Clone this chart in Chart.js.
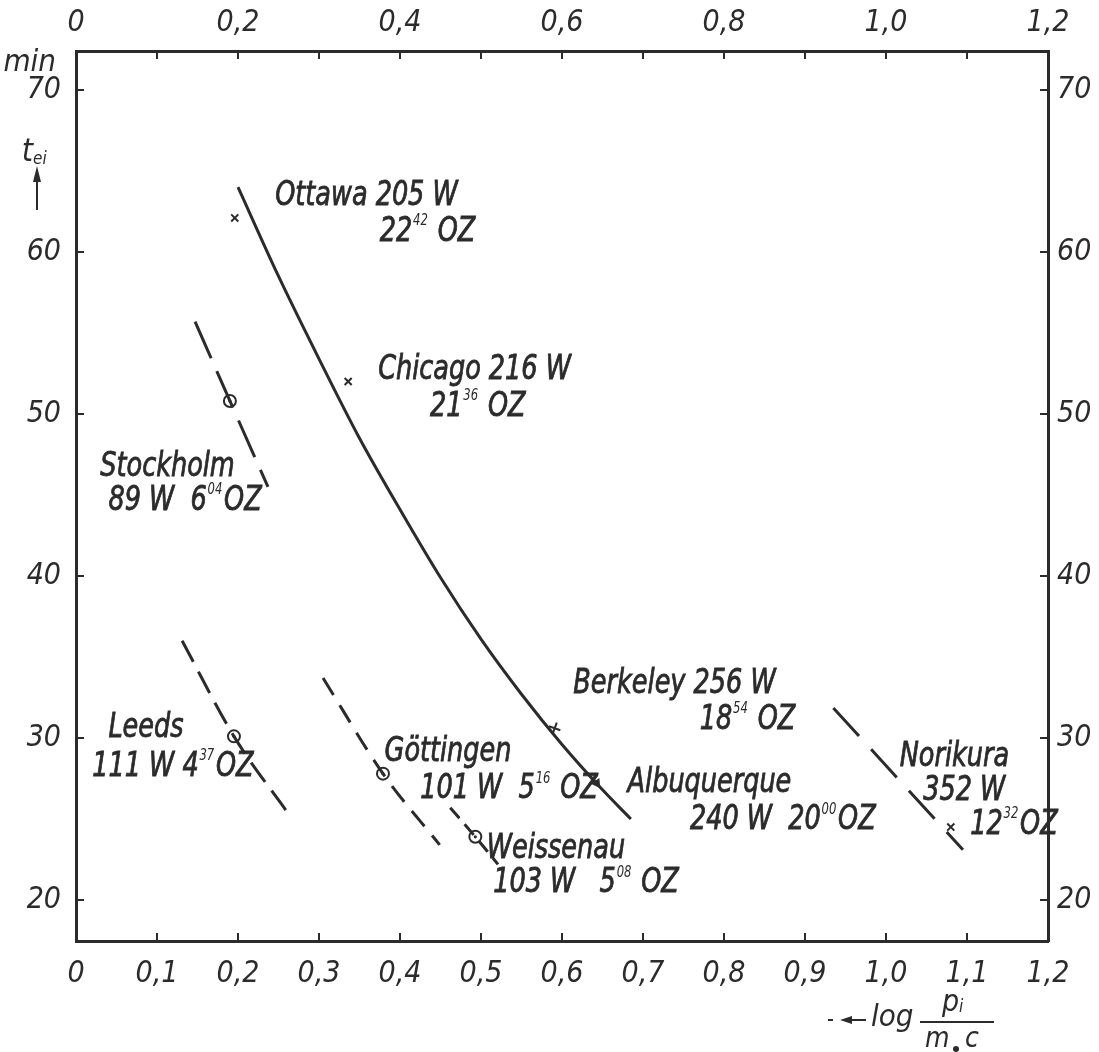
<!DOCTYPE html>
<html>
<head>
<meta charset="utf-8">
<script src="https://cdn.jsdelivr.net/npm/chart.js@4.4.1/dist/chart.umd.min.js"></script>
<style>
    html, body { margin: 0; padding: 0; background: #fff; }
    #wrap { width: 1099px; height: 1052px; }
</style>
</head>
<body>
<div id="wrap"><canvas id="chart" width="1099" height="1052"></canvas></div>
<script>
// tick values
const xTicks = [0, 0.1, 0.2, 0.3, 0.4, 0.5, 0.6, 0.7, 0.8, 0.9, 1.0, 1.1, 1.2];
const yTicks = [20, 30, 40, 50, 60, 70];

// solid curve (Ottawa / Chicago / Berkeley / Albuquerque)
const mainCurveX = [0.200, 0.250, 0.300, 0.350, 0.400, 0.450, 0.500, 0.550, 0.600, 0.650, 0.685];
const mainCurveY = [64.0, 58.5, 53.4, 48.5, 44.1, 39.9, 36.1, 32.7, 29.6, 26.8, 25.0];

// dashed curves
const stockholmX = [0.147, 0.190, 0.237];
const stockholmY = [55.7, 50.8, 45.5];
const leedsX = [0.131, 0.195, 0.264];
const leedsY = [36.0, 30.1, 25.2];
const goettingenX = [0.305, 0.379, 0.449];
const goettingenY = [33.7, 27.8, 23.4];
const weissenauX = [0.462, 0.493, 0.521];
const weissenauY = [25.7, 23.9, 22.2];
const norikuraX = [0.935, 1.095];
const norikuraY = [31.85, 23.1];

// measured points
const crossX = [0.196, 0.336, 1.080];   // Ottawa, Chicago, Norikura
const crossY = [62.1, 52.0, 24.5];
const plusX = [0.591];                  // Berkeley
const plusY = [30.6];
const arrowX = [0.643];                 // Albuquerque
const arrowY = [27.2];
const circleX = [0.190, 0.195, 0.379, 0.493];  // Stockholm, Leeds, Göttingen, Weissenau
const circleY = [50.8, 30.1, 27.8, 23.9];

// station labels
const labelText = [
    "Ottawa 205 W", "22^42 OZ",
    "Chicago 216 W", "21^36 OZ",
    "Stockholm", "89 W  6^04OZ",
    "Leeds", "111 W 4^37OZ",
    "Göttingen", "101 W  5^16 OZ",
    "Weissenau", "103 W   5^08 OZ",
    "Berkeley 256 W", "18^54 OZ",
    "Albuquerque", "240 W  20^00OZ",
    "Norikura", "352 W", "12^32OZ"
];
const labelX = [0.246, 0.375, 0.373, 0.437, 0.030, 0.040, 0.040, 0.020, 0.381, 0.425,
                0.507, 0.515, 0.614, 0.770, 0.681, 0.758, 1.017, 1.046, 1.104];
const labelY = [63.4, 61.2, 52.7, 50.4, 46.7, 44.6, 30.6, 28.2, 29.1, 26.8,
                23.1, 21.0, 33.3, 31.1, 27.2, 24.9, 28.8, 26.7, 24.6];

const ink = "#2b2b2b";
const FAMILY = '"DejaVu Sans Condensed", "DejaVu Sans", sans-serif';

function toPoints(xs, ys) {
    return xs.map((x, i) => ({ x: x, y: ys[i] }));
}

function lineSet(xs, ys, dash) {
    return {
        type: "line",
        data: toPoints(xs, ys),
        borderColor: ink,
        borderWidth: 3,
        borderDash: dash,
        borderCapStyle: "butt",
        pointRadius: 0,
        cubicInterpolationMode: "monotone",
        fill: false
    };
}

function pointSet(xs, ys, style, radius, extra) {
    return Object.assign({
        type: "scatter",
        data: toPoints(xs, ys),
        pointStyle: style,
        pointRadius: radius,
        pointBorderColor: ink,
        pointBackgroundColor: "#fff",
        pointBorderWidth: 2,
        showLine: false
    }, extra || {});
}

function fmtTick(v) {
    return v === 0 ? "0" : v.toFixed(1).replace(".", ",");
}

function fixTicks(values) {
    return function (scale) {
        scale.ticks = values.map(v => ({ value: v }));
    };
}

const tickFont = { family: FAMILY, size: 30, style: "italic" };

// draws "22^42 OZ" with the raised minutes, squeezed like the lettering stencil
function drawRich(ctx, str, x, y, size) {
    const parts = str.split(/\^(\d+)/);
    ctx.save();
    ctx.translate(x, y);
    ctx.scale(0.86, 1);
    ctx.lineWidth = 0.8;
    let cx = 0;
    parts.forEach((p, i) => {
        if (i % 2 === 0) {
            ctx.font = "italic " + size + "px " + FAMILY;
            ctx.fillText(p, cx, 0);
            ctx.strokeText(p, cx, 0);
            cx += ctx.measureText(p).width;
        } else {
            ctx.font = "italic " + Math.round(size * 0.45) + "px " + FAMILY;
            ctx.fillText(p, cx + 1, -size * 0.33);
            cx += ctx.measureText(p).width + 3;
        }
    });
    ctx.restore();
}

const decorPlugin = {
    id: "decor",
    afterDraw(chart) {
        const { ctx, chartArea: a, scales } = chart;
        const xs = scales.x, ys = scales.y;
        ctx.save();
        ctx.strokeStyle = ink;
        ctx.fillStyle = ink;
        ctx.lineWidth = 2;

        // inward tick marks
        const tl = 8;
        yTicks.forEach(v => {
            const py = ys.getPixelForValue(v);
            ctx.beginPath();
            ctx.moveTo(a.left, py); ctx.lineTo(a.left + tl, py);
            ctx.moveTo(a.right, py); ctx.lineTo(a.right - tl, py);
            ctx.stroke();
        });
        xTicks.slice(1, -1).forEach(v => {
            const px = xs.getPixelForValue(v);
            ctx.beginPath();
            ctx.moveTo(px, a.bottom); ctx.lineTo(px, a.bottom - tl);
            ctx.moveTo(px, a.top); ctx.lineTo(px, a.top + tl);
            ctx.stroke();
        });

        // centre dots of the circle markers
        circleX.forEach((x, i) => {
            ctx.beginPath();
            ctx.arc(xs.getPixelForValue(x), ys.getPixelForValue(circleY[i]), 1.6, 0, Math.PI * 2);
            ctx.fill();
        });

        // station labels
        ctx.textBaseline = "middle";
        ctx.textAlign = "left";
        labelText.forEach((t, i) => {
            drawRich(ctx, t, xs.getPixelForValue(labelX[i]), ys.getPixelForValue(labelY[i]), 33);
        });

        // y axis unit and title
        const y70 = ys.getPixelForValue(70);
        ctx.textAlign = "right";
        ctx.font = "italic 31px " + FAMILY;
        ctx.fillText("min", a.left - 20, y70 - 27);
        ctx.font = "italic 32px " + FAMILY;
        ctx.fillText("t", a.left - 43, y70 + 63);
        ctx.font = "italic 17px " + FAMILY;
        ctx.textAlign = "left";
        ctx.fillText("ei", a.left - 43, y70 + 70);
        ctx.lineWidth = 2;
        ctx.beginPath();
        ctx.moveTo(a.left - 39, y70 + 120);
        ctx.lineTo(a.left - 39, y70 + 84);
        ctx.stroke();
        ctx.beginPath();
        ctx.moveTo(a.left - 39, y70 + 76);
        ctx.lineTo(a.left - 43, y70 + 92);
        ctx.lineTo(a.left - 35, y70 + 92);
        ctx.closePath();
        ctx.fill();

        // x axis title: - <- log p_i / m0 c
        const ty = a.bottom + 79;
        ctx.lineWidth = 2;
        ctx.beginPath();
        ctx.moveTo(828, ty); ctx.lineTo(833, ty);
        ctx.moveTo(846, ty); ctx.lineTo(866, ty);
        ctx.stroke();
        ctx.beginPath();
        ctx.moveTo(840, ty); ctx.lineTo(852, ty - 4); ctx.lineTo(852, ty + 4);
        ctx.closePath();
        ctx.fill();
        ctx.textAlign = "left";
        ctx.font = "italic 31px " + FAMILY;
        ctx.fillText("log", 871, ty - 2);
        ctx.beginPath();
        ctx.moveTo(920, ty + 2); ctx.lineTo(994, ty + 2);
        ctx.stroke();
        ctx.font = "italic 30px " + FAMILY;
        ctx.fillText("p", 942, ty - 17);
        ctx.font = "italic 17px " + FAMILY;
        ctx.fillText("i", 959, ty - 12);
        ctx.font = "italic 28px " + FAMILY;
        ctx.fillText("m", 925, ty + 20);
        ctx.fillText("c", 965, ty + 20);
        ctx.beginPath();
        ctx.arc(956, ty + 29, 3, 0, Math.PI * 2);
        ctx.fill();

        ctx.restore();
    }
};

const ctx = document.getElementById("chart").getContext("2d");

new Chart(ctx, {
    type: "scatter",
    data: {
        datasets: [
            lineSet(mainCurveX, mainCurveY, []),
            lineSet(stockholmX, stockholmY, [40, 14]),
            lineSet(leedsX, leedsY, [24, 11]),
            lineSet(goettingenX, goettingenY, [20, 12]),
            lineSet(weissenauX, weissenauY, [14, 8]),
            lineSet(norikuraX, norikuraY, [38, 18]),
            pointSet(crossX, crossY, "crossRot", 5),
            pointSet(plusX, plusY, "cross", 6, { rotation: 20 }),
            pointSet(arrowX, arrowY, "triangle", 4, { rotation: 145, pointBackgroundColor: ink }),
            pointSet(circleX, circleY, "circle", 6)
        ]
    },
    options: {
        responsive: false,
        animation: false,
        layout: { padding: 0 },
        plugins: {
            legend: { display: false },
            tooltip: { enabled: false }
        },
        scales: {
            x: {
                type: "linear",
                position: "bottom",
                min: 0,
                max: 1.2,
                afterBuildTicks: fixTicks(xTicks),
                afterFit: s => { s.height = 111; },
                grid: { display: false, drawTicks: false },
                border: { display: true, width: 3, color: ink },
                ticks: { font: tickFont, color: ink, padding: 15, maxRotation: 0, autoSkip: false, callback: fmtTick }
            },
            xTop: {
                type: "linear",
                position: "top",
                min: 0,
                max: 1.2,
                afterBuildTicks: fixTicks(xTicks),
                afterFit: s => { s.height = 51; },
                grid: { display: false, drawTicks: false },
                border: { display: true, width: 3, color: ink },
                ticks: {
                    font: tickFont, color: ink, padding: 10, maxRotation: 0, autoSkip: false,
                    callback: v => (Math.round(v * 10) % 2 === 0 ? fmtTick(v) : "")
                }
            },
            y: {
                type: "linear",
                position: "left",
                min: 17.47,
                max: 72.4,
                afterBuildTicks: fixTicks(yTicks),
                afterFit: s => { s.width = 76; },
                grid: { display: false, drawTicks: false },
                border: { display: true, width: 3, color: ink },
                ticks: { font: tickFont, color: ink, padding: 15 }
            },
            yRight: {
                type: "linear",
                position: "right",
                min: 17.47,
                max: 72.4,
                afterBuildTicks: fixTicks(yTicks),
                afterFit: s => { s.width = 51; },
                grid: { display: false, drawTicks: false },
                border: { display: true, width: 3, color: ink },
                ticks: { font: tickFont, color: ink, padding: 9 }
            }
        }
    },
    plugins: [decorPlugin]
});
</script>
</body>
</html>
